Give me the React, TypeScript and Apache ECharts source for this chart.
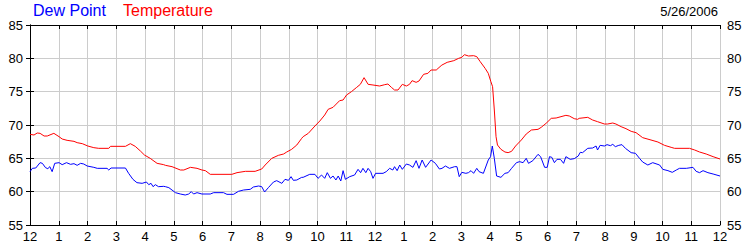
import React, { useEffect, useRef } from "react";
import * as echarts from "echarts";

const hourLabels = ["12","1","2","3","4","5","6","7","8","9","10","11","12","1","2","3","4","5","6","7","8","9","10","11","12"];

const tempHours = [
  0.00,0.14,0.25,0.35,0.49,0.60,0.83,1.01,1.12,1.29,1.53,1.64,1.82,2.01,2.22,2.39,2.74,2.80,3.32,3.49,3.66,3.84,3.98,4.18,4.42,4.65,
  4.71,4.94,5.23,5.35,5.58,5.81,5.98,6.10,6.27,7.02,7.20,7.49,7.83,8.06,8.18,8.41,8.64,8.82,8.93,9.10,9.28,9.45,
  9.50,9.68,9.91,10.08,10.25,10.37,10.54,10.77,10.89,11.01,11.18,11.35,11.49,11.62,11.76,11.93,12.16,12.34,12.45,12.57,12.68,12.80,12.95,13.09,13.20,13.29,13.43,13.53,13.69,13.84,13.95,14.13,14.30,
  14.33,14.51,14.74,14.91,15.02,15.11,15.25,15.43,15.54,15.66,15.83,15.94,16.03,16.09,16.15,16.21,16.26,16.38,16.52,16.63,16.75,16.89,17.09,17.26,17.44,17.67,17.78,17.95,18.13,18.30,18.47,18.64,18.76,18.93,19.05,
  19.10,19.40,19.57,19.74,19.98,20.09,20.27,20.38,20.56,20.73,20.91,21.08,21.31,21.60,21.84,22.07,22.30,22.42,22.94,23.12,23.29,23.52,23.76,24.00
];
const tempValues = [
  68.6,68.5,68.8,68.75,68.35,68.35,68.75,68.25,67.9,67.7,67.55,67.35,67.2,66.85,66.6,66.5,66.5,66.8,66.8,67.2,66.8,66.1,65.5,65.0,64.25,64.05,
  63.95,63.75,63.25,63.25,63.65,63.5,63.25,63.15,62.6,62.6,62.85,63.05,63.05,63.4,64.0,65.0,65.45,65.65,65.95,66.35,67.0,68.0,
  68.25,68.75,69.85,70.6,71.5,72.35,72.65,73.65,73.75,74.5,75.0,75.6,76.1,77.1,76.1,76.0,75.85,76.05,76.15,75.65,75.25,75.25,76.1,75.85,76.1,76.65,76.4,76.6,77.6,77.75,78.25,78.25,78.9,
  79.0,79.4,79.65,80.0,80.15,80.55,80.35,80.4,80.25,79.5,78.5,77.75,76.5,75.75,72.25,68.25,67.0,66.35,65.95,65.85,66.05,66.85,67.75,68.65,69.25,69.35,69.65,70.25,71.0,71.05,71.25,71.45,71.35,70.95,70.85,
  71.0,71.15,70.75,70.5,70.15,70.15,70.3,70.15,69.75,69.45,69.05,68.85,68.1,67.75,67.45,66.95,66.65,66.5,66.5,66.25,65.95,65.65,65.25,64.9
];

const dewHours = [
  0.00,0.08,0.20,0.35,0.43,0.54,0.62,0.69,0.77,0.86,1.01,1.12,1.27,1.41,1.53,1.64,1.76,1.87,1.99,2.22,2.34,2.68,2.74,2.82,3.32,3.43,3.58,3.72,3.90,4.05,4.13,4.21,4.28,4.36,4.47,4.65,
  4.71,4.83,5.06,5.23,5.40,5.52,5.61,5.69,5.81,5.98,6.27,6.39,6.73,6.85,7.08,7.25,7.43,7.66,7.77,7.95,8.06,8.16,8.29,8.47,8.58,8.76,8.87,8.99,9.08,9.16,9.28,9.45,
  9.50,9.73,9.91,10.02,10.14,10.25,10.34,10.45,10.54,10.64,10.72,10.81,10.89,10.97,11.12,11.29,11.41,11.50,11.58,11.68,11.76,11.85,11.93,12.02,12.28,12.39,12.51,12.62,12.68,12.77,12.86,12.95,13.09,13.20,13.32,13.43,13.53,13.64,13.76,13.95,14.10,14.24,
  14.33,14.45,14.59,14.77,14.85,14.93,15.02,15.16,15.25,15.34,15.43,15.54,15.62,15.77,15.94,16.02,16.08,16.15,16.23,16.38,16.52,16.63,16.75,16.92,17.03,17.15,17.26,17.34,17.49,17.67,17.76,17.90,17.99,18.07,18.15,18.24,18.33,18.45,18.56,18.64,18.79,18.93,19.07,19.14,
  19.22,19.40,19.57,19.69,19.74,19.83,19.98,20.07,20.19,20.27,20.36,20.48,20.59,20.71,20.91,21.06,21.20,21.31,21.49,21.66,21.90,22.01,22.19,22.34,22.48,22.59,22.83,23.06,23.17,23.29,23.41,23.58,23.76,24.00
];
const dewValues = [
  63.0,63.5,63.55,64.35,64.25,63.6,63.45,63.75,63.0,64.25,64.35,64.05,64.35,64.1,64.2,63.95,64.25,64.15,63.85,63.65,63.5,63.5,63.25,63.55,63.55,62.75,61.85,61.35,61.25,61.45,61.05,61.25,60.75,61.05,60.75,60.8,
  60.75,60.6,59.85,59.65,59.5,59.65,60.0,59.65,59.85,59.65,59.65,59.85,59.85,59.6,59.6,60.05,60.25,60.35,60.7,60.85,60.75,59.95,60.6,61.45,61.65,61.25,61.85,61.7,62.25,61.7,61.75,62.15,
  62.15,62.6,62.6,62.0,62.5,62.0,62.85,62.0,62.35,61.75,62.35,61.6,63.15,61.85,62.25,62.5,63.35,62.85,63.5,62.85,63.5,63.0,62.0,62.75,62.75,63.0,63.5,63.25,63.75,63.15,64.0,63.35,64.15,64.0,63.65,64.65,63.5,64.75,63.65,64.75,64.25,63.4,
  63.5,63.85,63.5,63.75,63.75,62.25,62.9,62.75,62.85,63.15,62.75,63.5,63.0,62.75,64.75,65.25,66.85,65.0,62.35,62.15,62.75,62.85,63.5,64.35,64.5,64.35,65.0,64.25,64.65,65.6,65.25,63.65,63.65,65.25,65.15,64.35,64.85,64.85,64.25,65.25,64.85,64.95,65.35,65.9,
  65.85,66.5,66.55,66.85,66.25,66.95,66.85,67.05,66.9,67.1,66.75,66.95,67.05,66.5,65.85,65.75,65.0,64.45,64.0,64.35,64.0,63.35,63.15,62.9,63.25,63.5,63.5,63.65,63.05,62.85,63.15,62.85,62.65,62.35
];

const FONT = "'Liberation Sans', Arial, sans-serif";

export default function App() {
  const ref = useRef<HTMLDivElement>(null);
  useEffect(() => {
    if (!ref.current) return;
    const chart = echarts.init(ref.current, null, { renderer: "svg" });
    const tempData = tempHours.map((h, i) => [h, tempValues[i]]);
    const dewData = dewHours.map((h, i) => [h, dewValues[i]]);
    const axisLine = { show: true, lineStyle: { color: "#000", width: 1 } };
    const tick = { show: true, inside: true, length: 4, lineStyle: { color: "#000" } };
    const label = { color: "#000", fontSize: 13, fontFamily: FONT };
    chart.setOption({
      animation: false,
      backgroundColor: "#fff",
      title: [
        { text: "Dew Point", left: 33, top: 2, padding: 0, textStyle: { color: "#0000ff", fontSize: 16, fontWeight: "normal", fontFamily: FONT } },
        { text: "Temperature", left: 123, top: 2, padding: 0, textStyle: { color: "#ff0000", fontSize: 16, fontWeight: "normal", fontFamily: FONT } },
        { text: "5/26/2006", right: 32, top: 5, padding: 0, textStyle: { color: "#000", fontSize: 13, fontWeight: "normal", fontFamily: FONT } },
      ],
      grid: { left: 30, right: 30, top: 25, bottom: 25, containLabel: false },
      xAxis: [
        {
          type: "value", position: "bottom", min: 0, max: 24, interval: 1,
          axisLine, axisTick: tick,
          axisLabel: { ...label, margin: 5, formatter: (v: number) => hourLabels[Math.round(v)] ?? "" },
          splitLine: { show: true, lineStyle: { color: "#cccccc", width: 1 } },
        },
        {
          type: "value", position: "top", min: 0, max: 24, interval: 1,
          axisLine, axisTick: tick, axisLabel: { show: false }, splitLine: { show: false },
        },
      ],
      yAxis: [
        {
          type: "value", position: "left", min: 55, max: 85, interval: 5,
          axisLine, axisTick: tick,
          axisLabel: { ...label, margin: 7 },
          splitLine: { show: true, lineStyle: { color: "#cccccc", width: 1 } },
        },
        {
          type: "value", position: "right", min: 55, max: 85, interval: 5,
          axisLine, axisTick: tick,
          axisLabel: { ...label, margin: 7 },
          splitLine: { show: false },
        },
      ],
      series: [
        { name: "Dew Point", type: "line", data: dewData, showSymbol: false, lineStyle: { color: "#0000ff", width: 1 }, itemStyle: { color: "#0000ff" } },
        { name: "Temperature", type: "line", data: tempData, showSymbol: false, lineStyle: { color: "#ff0000", width: 1 }, itemStyle: { color: "#ff0000" } },
      ],
    });
    return () => chart.dispose();
  }, []);
  return <div ref={ref} style={{ position: "absolute", left: 0, top: 0, width: 750, height: 250 }} />;
}
